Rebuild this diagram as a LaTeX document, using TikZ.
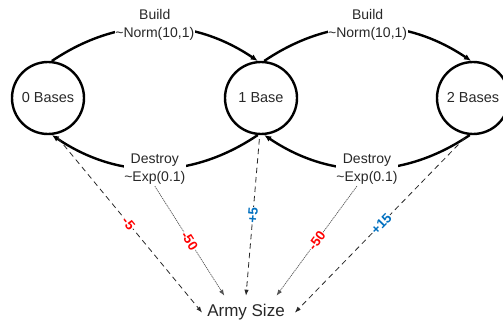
\documentclass[tikz,border=0pt]{standalone}
\usepackage{fontspec}
\setmainfont{Liberation Sans}
\usetikzlibrary{arrows.meta}
\definecolor{ink}{RGB}{40,40,40}
\definecolor{loss}{RGB}{255,0,0}
\definecolor{gain}{RGB}{0,112,192}

\begin{document}
\begin{tikzpicture}[x=1pt,y=1pt,
  state/.style={circle, draw=black, line width=2.4pt, minimum size=72pt,
    inner sep=0pt, font=\fontsize{14.5}{17}\selectfont, text=ink},
  trans/.style={line width=2.4pt, bend left=34, -{Latex[length=7pt,width=6pt]}},
  rate/.style={fill=white, inner xsep=0.5pt, inner ysep=1pt, align=center,
    font=\fontsize{14}{18}\selectfont, text=ink},
  effect/.style={draw=ink, line width=0.8pt, dash pattern=on 5.5pt off 4pt,
    -{Latex[length=6pt,width=4.5pt]}},
  chance/.style={draw=ink!80, line width=0.7pt, dash pattern=on 1.2pt off 0.8pt,
    -{Latex[length=6pt,width=4.5pt]}},
  delta/.style={midway, sloped, fill=white, inner sep=0.6pt,
    font=\fontsize{13.5}{14}\selectfont\bfseries},
]
\useasboundingbox (0,0) rectangle (503,-321);

% states
\node[state] (c0) at (48,-98)  {0 Bases};
\node[state] (c1) at (261,-98) {1 Base};
\node[state] (c2) at (473,-98) {2 Bases};

% target
\node[font=\fontsize{17}{20}\selectfont, text=ink, inner xsep=5pt, inner ysep=8.8pt]
  (army) at (246,-312.6) {Army Size};

% build transitions
\draw[trans] (c0.84) to
  node[rate, yshift=2pt] (b1) {Build\\\textasciitilde Norm(10,1)} (c1.95);
\draw[trans] (c1.85) to
  node[rate, yshift=2pt] (b2) {Build\\\textasciitilde Norm(10,1)} (c2.93);

% destroy transitions
\draw[trans] (c1.265) to
  node[rate] (d1) {Destroy\\\textasciitilde Exp(0.1)} (c0.276);
\draw[trans] (c2.265) to
  node[rate] (d2) {Destroy\\\textasciitilde Exp(0.1)} (c1.275);

% effects on army size
\draw[effect, shorten <=4pt] (c0.281) -- (army.west)
  node[delta, text=loss] {-5};
\draw[chance] (d1.south) -- (army.142)
  node[delta, text=loss] {-50};
\draw[effect, shorten <=4pt] (c1.268) -- (army.north)
  node[delta, text=gain] {+5};
\draw[chance] (d2.240) -- (army.29)
  node[delta, text=loss] {-50};
\draw[effect, shorten <=4pt] (c2.262) -- ([xshift=5pt]army.east)
  node[delta, text=gain] {+15};
\end{tikzpicture}
\end{document}
